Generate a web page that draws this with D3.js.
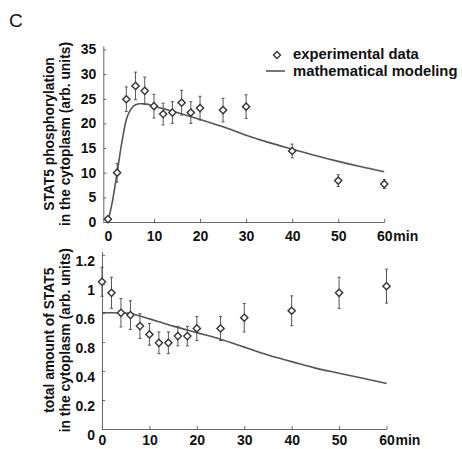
<!DOCTYPE html>
<html>
<head>
<meta charset="utf-8">
<script src="https://cdn.jsdelivr.net/npm/d3@7"></script>
<style>
  body { margin: 0; background: #fff; }
  text { font-family: "Liberation Sans", Arial, sans-serif; fill: #111; }
  .tick text { font-weight: bold; font-size: 14px; }
  .axis path, .axis line { stroke: #666; }
</style>
</head>
<body>
<div id="chartdiv"></div>
<script>
// sampling times (min)
var times = [0, 2, 4, 6, 8, 10, 12, 14, 16, 18, 20, 25, 30, 40, 50, 60];

// top panel: STAT5 phosphorylation
var phosMean = [0.6, 10, 24.9, 27.6, 26.6, 23.5, 21.9, 22.2, 24.2, 22.2, 23.1, 22.7, 23.4, 14.4, 8.4, 7.7];
var phosErr = [0.3, 1.9, 2.5, 2.8, 2.8, 2.4, 2.2, 2.2, 2.5, 2.2, 2.4, 2.4, 2.4, 1.4, 1.2, 0.9];
var phosModelT = [0, 1, 2, 3, 4, 5, 6, 7, 8, 9, 10, 12, 15, 20, 25, 30, 35, 40, 45, 50, 55, 60];
var phosModel = [0, 4.3, 10, 16, 20.8, 22.9, 23.8, 24, 24, 23.8, 23.5, 23, 22.2, 20.8, 19.3, 17.6, 16.1, 14.8, 13.5, 12.3, 11.2, 10.2];
var phosTicks = [0, 5, 10, 15, 20, 25, 30, 35];

// bottom panel: total STAT5
var totalMean = [1.016, 0.94, 0.802, 0.786, 0.71, 0.653, 0.595, 0.595, 0.641, 0.641, 0.694, 0.694, 0.768, 0.816, 0.94, 0.986];
var totalErr = [0.1, 0.107, 0.098, 0.099, 0.086, 0.075, 0.075, 0.075, 0.067, 0.067, 0.083, 0.083, 0.098, 0.103, 0.107, 0.117];
var totalModelT = [0, 2, 4, 5, 6, 8, 10, 12, 15, 20, 25, 30, 35, 40, 45, 50, 55, 60];
var totalModel = [0.802, 0.802, 0.801, 0.8, 0.797, 0.78, 0.76, 0.74, 0.71, 0.665, 0.62, 0.565, 0.51, 0.465, 0.42, 0.385, 0.35, 0.315];
var totalTicks = [0, 0.2, 0.4, 0.6, 0.8, 1, 1.2];
var totalTickLabels = ["0", "0.2", "0.4", "0.8", "0.6", "1", "1.2"];

var xTicks = [0, 10, 20, 30, 40, 50, 60];

var svg = d3.select("#chartdiv")
    .append("svg")
    .attr("width", 462)
    .attr("height", 449);

svg.append("rect").attr("width", 462).attr("height", 449).attr("fill", "#fff");

// panel letter
svg.append("text")
    .attr("x", 9)
    .attr("y", 27)
    .attr("font-size", 19)
    .text("C");

function drawPanel(opt) {
    var x = d3.scaleLinear().domain(opt.xDomain).range(opt.xRange);
    var y = d3.scaleLinear().domain(opt.yDomain).range(opt.yRange);
    var y0 = opt.yRange[0];

    var xAxis = d3.axisBottom(x)
        .tickValues(xTicks)
        .tickSizeInner(-3)
        .tickSizeOuter(0)
        .tickPadding(opt.xPad)
        .tickFormat(d3.format("d"));

    svg.append("g")
        .attr("class", "axis")
        .attr("transform", `translate(0, ${y0})`)
        .call(xAxis);

    var yAxis = d3.axisLeft(y)
        .tickValues(opt.yTicks)
        .tickSizeInner(-3)
        .tickSizeOuter(0)
        .tickPadding(7)
        .tickFormat(function (d, i) { return opt.yLabels ? opt.yLabels[i] : d; });

    var gy = svg.append("g")
        .attr("class", "axis")
        .attr("transform", `translate(${opt.xRange[0]}, 0)`)
        .call(yAxis);

    if (opt.yLabelDy) gy.selectAll(".tick text").attr("dy", opt.yLabelDy);

    // "min" after last tick
    svg.append("text")
        .attr("x", x(60) + 9)
        .attr("y", y0 + opt.xPad + 10)
        .attr("font-size", 14)
        .attr("font-weight", "bold")
        .text("min");

    // y label
    var cy = (opt.yRange[0] + opt.yRange[1]) / 2;
    opt.title.forEach(function (t, i) {
        svg.append("text")
            .attr("transform", `translate(${54 + i * 16}, ${cy}) rotate(-90)`)
            .attr("text-anchor", "middle")
            .attr("font-size", 13.8)
            .attr("font-weight", "bold")
            .text(t);
    });

    // model curve
    var line = d3.line()
        .x(function (d, i) { return x(opt.modelT[i]); })
        .y(function (d) { return y(d); })
        .curve(d3.curveMonotoneX);

    svg.append("path")
        .datum(opt.model)
        .attr("d", line)
        .attr("fill", "none")
        .attr("stroke", "#555")
        .attr("stroke-width", 1.6);

    // error bars
    var eb = svg.append("g").attr("stroke", "#555").attr("stroke-width", 1);
    opt.mean.forEach(function (m, i) {
        var cx = x(times[i]);
        var e = opt.err[i];
        eb.append("line").attr("x1", cx).attr("x2", cx).attr("y1", y(m - e)).attr("y2", y(m + e));
        eb.append("line").attr("x1", cx - 1.5).attr("x2", cx + 1.5).attr("y1", y(m - e)).attr("y2", y(m - e));
        eb.append("line").attr("x1", cx - 1.5).attr("x2", cx + 1.5).attr("y1", y(m + e)).attr("y2", y(m + e));
    });

    // diamonds
    svg.append("g").selectAll("path")
        .data(opt.mean)
        .enter()
        .append("path")
        .attr("d", function (d, i) {
            var cx = x(times[i]), cy2 = y(d), r = 3.6;
            return `M${cx},${cy2 - r}L${cx + r},${cy2}L${cx},${cy2 + r}L${cx - r},${cy2}Z`;
        })
        .attr("fill", "#fff")
        .attr("stroke", "#333")
        .attr("stroke-width", 1.4);
}

drawPanel({
    xDomain: [-1, 60], xRange: [103.3, 384.3],
    yDomain: [0, 35.7], yRange: [222, 46],
    xPad: 9,
    yTicks: phosTicks,
    mean: phosMean, err: phosErr,
    modelT: phosModelT, model: phosModel,
    title: ["STAT5 phosphorylation", "in the cytoplasm (arb. units)"]
});

drawPanel({
    xDomain: [0, 60], xRange: [102, 386.5],
    yDomain: [0, 1.225], yRange: [429, 251.5],
    xPad: 6,
    yTicks: totalTicks, yLabels: totalTickLabels, yLabelDy: "0.75em",
    mean: totalMean, err: totalErr,
    modelT: totalModelT, model: totalModel,
    title: ["total amount of STAT5", "in the cytoplasm (arb. units)"]
});

// legend
var leg = svg.append("g");
leg.append("path")
    .attr("d", "M277,51.5L280.5,55L277,58.5L273.5,55Z")
    .attr("fill", "#fff")
    .attr("stroke", "#333")
    .attr("stroke-width", 1.3);
leg.append("text")
    .attr("x", 293)
    .attr("y", 59)
    .attr("font-size", 14.8)
    .attr("font-weight", "bold")
    .text("experimental data");
leg.append("line")
    .attr("x1", 266).attr("x2", 285)
    .attr("y1", 71).attr("y2", 71)
    .attr("stroke", "#555")
    .attr("stroke-width", 1.6);
leg.append("text")
    .attr("x", 293)
    .attr("y", 76)
    .attr("font-size", 14.8)
    .attr("font-weight", "bold")
    .text("mathematical modeling");
</script>
</body>
</html>
